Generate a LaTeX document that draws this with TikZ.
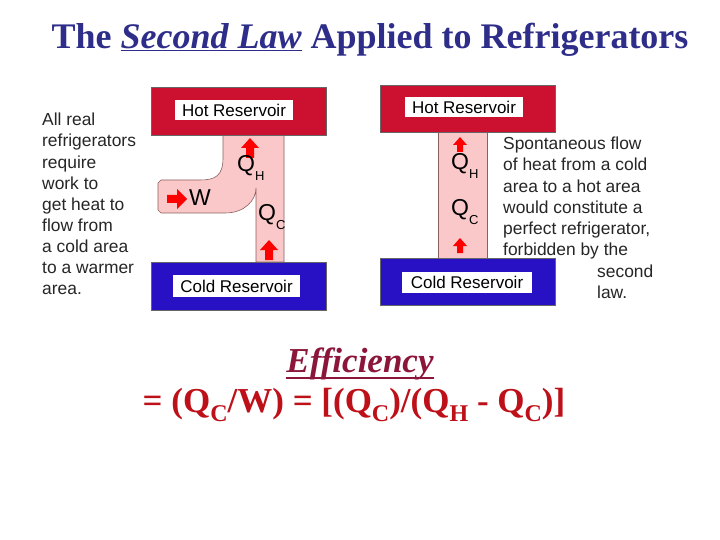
\documentclass[tikz,border=0pt]{standalone}
\usepackage{fontspec}
\setmainfont{Liberation Serif}
\setsansfont{Liberation Sans}
\definecolor{hotred}{RGB}{204,16,48}
\definecolor{coldblue}{RGB}{40,16,196}
\definecolor{pipepink}{RGB}{250,200,200}
\definecolor{pipeline}{RGB}{140,95,95}
\definecolor{titleblue}{RGB}{46,46,138}
\definecolor{effred}{RGB}{139,22,58}
\definecolor{eqred}{RGB}{190,16,24}
\tikzset{
  reservoir/.style = {draw = black!60, line width = 0.4pt},
  label box/.style = {fill = white, inner sep = 0pt, font = \sffamily\fontsize{17}{17}\selectfont},
  note/.style = {inner sep = 0pt, align = left, text = black!85, font = \sffamily\fontsize{17.4}{21.1}\selectfont},
  qtext/.style = {inner sep = 0pt, anchor = west, font = \sffamily\fontsize{23}{23}\selectfont},
  up arrow/.pic = {\fill[red] (-4,0) -- (-4,-10) -- (-9,-10) -- (0,-20) -- (9,-10) -- (4,-10) -- (4,0) -- cycle;},
  small up arrow/.pic = {\fill[red] (-3,0) -- (-3,-7) -- (-7,-7) -- (0,-15) -- (7,-7) -- (3,-7) -- (3,0) -- cycle;},
  right arrow/.pic = {\fill[red] (0,-4) -- (10,-4) -- (10,-10) -- (20,0) -- (10,10) -- (10,4) -- (0,4) -- cycle;}
}
\newcommand{\qsub}[2]{#1\raisebox{-9pt}{\fontsize{13}{13}\selectfont #2}}
\newcommand{\bigsub}[1]{\raisebox{-9pt}{\fontsize{24}{24}\selectfont #1}}
\begin{document}
\begin{tikzpicture}[x = 1pt, y = -1pt]
\useasboundingbox (0,0) rectangle (720,540);
\fill[white] (0,0) rectangle (720,540);

\node (title) at (370,40) {\fontsize{36}{36}\selectfont\bfseries\color{titleblue}The \underline{\itshape Second Law} Applied to Refrigerators};

% real refrigerator
\filldraw[fill = pipepink, draw = pipeline, line width = 0.6pt]
  (223,133) -- (223,158) .. controls (223,176) and (215,180) .. (200,180)
  -- (161,180) -- (158,183) -- (158,210) -- (161,213) -- (225,213)
  .. controls (245,213) and (256,200) .. (256,188) -- (256,262) -- (284,262) -- (284,133) -- cycle;
\filldraw[reservoir, fill = hotred] (151,87) rectangle (326,135);
\filldraw[reservoir, fill = coldblue] (151,262) rectangle (326,310);
\node[label box, minimum width = 118pt, minimum height = 20pt] (hotL) at (234,110) {Hot Reservoir};
\node[label box, minimum width = 127pt, minimum height = 22pt] (coldL) at (236.5,286) {Cold Reservoir};
\pic at (250,158) {up arrow};
\pic at (269,260) {up arrow};
\pic at (167,199) {right arrow};
\node[qtext] (qhL) at (237,168) {\qsub{Q}{H}};
\node[qtext] (qcL) at (258,217) {\qsub{Q}{C}};
\node[qtext] (work) at (189,198) {W};
\node[note, anchor = north west] (leftnote) at (42,113) {All real\\refrigerators\\require\\work to\\get heat to\\flow from\\a cold area\\to a warmer\\area.};

% perfect refrigerator
\filldraw[fill = pipepink, draw = pipeline, line width = 0.6pt] (438,130) rectangle (487,258);
\filldraw[reservoir, fill = hotred] (380,85) rectangle (555,132);
\filldraw[reservoir, fill = coldblue] (380,258) rectangle (555,305);
\node[label box, minimum width = 118pt, minimum height = 20pt] (hotR) at (464,107) {Hot Reservoir};
\node[label box, minimum width = 130pt, minimum height = 21pt] (coldR) at (467,282.5) {Cold Reservoir};
\pic at (460,152) {small up arrow};
\pic at (460,253) {small up arrow};
\node[qtext] (qhR) at (451,166) {\qsub{Q}{H}};
\node[qtext] (qcR) at (451,212) {\qsub{Q}{C}};
\node[note, anchor = north west] (rightnote) at (503,137) {Spontaneous flow\\of heat from a cold\\area to a hot area\\would constitute a\\perfect refrigerator,\\forbidden by the};
\node[note, anchor = north west] (rightnote2) at (597,265) {second\\law.};

% efficiency
\node[inner sep = 0pt] (eff) at (360,364) {\fontsize{35}{35}\selectfont\bfseries\itshape\color{effred}Efficiency};
\draw[effred, line width = 2pt] ([yshift = -5pt]eff.base west) -- ([yshift = -5pt]eff.base east);
\node (formula) at (354,405) {\fontsize{35}{35}\selectfont\bfseries\color{eqred}= (Q\bigsub{C}/W) = [(Q\bigsub{C})/(Q\bigsub{H} - Q\bigsub{C})]};
\end{tikzpicture}
\end{document}
